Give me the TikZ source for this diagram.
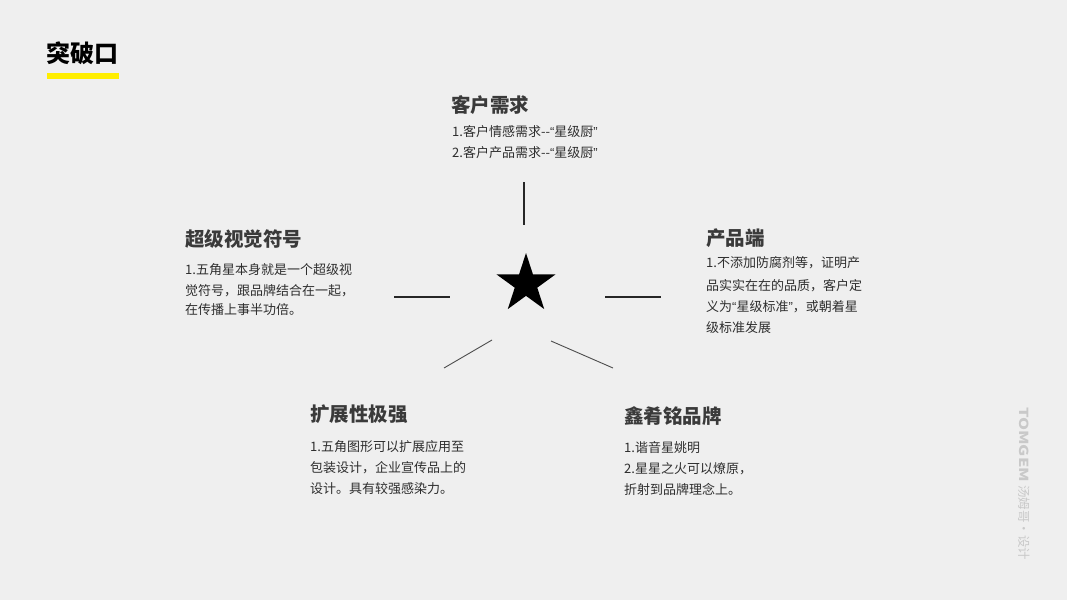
\documentclass[tikz,border=0pt]{standalone}
\usepackage{fontspec}
\setmainfont{Noto Sans CJK SC}
\newfontfamily\latinq{Liberation Sans}
\newcommand{\myLq}{{\latinq “}}
\newcommand{\myRq}{{\latinq ”}}
\usetikzlibrary{shapes.geometric}
\definecolor{bgc}{HTML}{EFEFEF}
\definecolor{headc}{HTML}{3A3A3A}
\definecolor{bodyc}{HTML}{2E2E2E}
\definecolor{markc}{HTML}{C9C9C9}
\definecolor{barc}{HTML}{FFEE00}
\tikzset{
  head/.style={anchor=west, inner sep=0pt, text=headc, font=\fontsize{19.5}{22}\selectfont\bfseries},
  body/.style={anchor=west, inner sep=0pt, text=bodyc, font=\fontsize{13}{15}\selectfont},
  thick line/.style={line width=1.6pt, draw=black!85},
  thin line/.style={line width=0.9pt, draw=black!70},
}
\begin{document}
\begin{tikzpicture}[x=1pt,y=-1pt]
\fill[bgc] (0,0) rectangle (1067,600);
\useasboundingbox (0,0) rectangle (1067,600);
% title
\node[anchor=west, inner sep=0pt, font=\fontsize{24}{28}\selectfont\bfseries] (title) at (46,53) {突破口};
\fill[barc] (47,73) rectangle (119,79);
% star
\node[star, star points=5, star point ratio=2.618, fill=black, minimum size=62pt, inner sep=0pt] (star) at (526,284) {};
% connector lines
\coordinate (t1) at (524,182); \coordinate (t2) at (524,225);
\coordinate (l1) at (394,297); \coordinate (l2) at (450,297);
\coordinate (r1) at (605,297); \coordinate (r2) at (661,297);
\coordinate (a1) at (492,340); \coordinate (a2) at (444,368);
\coordinate (b1) at (551,341); \coordinate (b2) at (613,368);
\draw[thick line] (t1) -- (t2);
\draw[thick line] (l1) -- (l2);
\draw[thick line] (r1) -- (r2);
\draw[thin line] (a1) -- (a2);
\draw[thin line] (b1) -- (b2);
% top block
\node[head] (h1) at (451,105) {客户需求};
\node[body] (h1a) at (452,131.5) {1.客户情感需求-{}-\myLq 星级厨\myRq};
\node[body] (h1b) at (452,153) {2.客户产品需求-{}-\myLq 星级厨\myRq};
% left block
\node[head] (h2) at (185,239) {超级视觉符号};
\node[body] (h2a) at (185,270) {1.五角星本身就是一个超级视};
\node[body] (h2b) at (185,290.5) {觉符号，跟品牌结合在一起，};
\node[body] (h2c) at (185,310) {在传播上事半功倍。};
% right block
\node[head] (h3) at (706,238) {产品端};
\node[body] (h3a) at (706,262.5) {1.不添加防腐剂等，证明产};
\node[body] (h3b) at (706,285.5) {品实实在在的品质，客户定};
\node[body] (h3c) at (706,307) {义为\myLq 星级标准\myRq，或朝着星};
\node[body] (h3d) at (706,328) {级标准发展};
% lower left block
\node[head] (h4) at (310,414) {扩展性极强};
\node[body] (h4a) at (310,446.5) {1.五角图形可以扩展应用至};
\node[body] (h4b) at (310,467.5) {包装设计，企业宣传品上的};
\node[body] (h4c) at (310,488.5) {设计。具有较强感染力。};
% lower right block
\node[head] (h5) at (624,416) {鑫肴铭品牌};
\node[body] (h5a) at (624,447.5) {1.谐音星姚明};
\node[body] (h5b) at (624,469) {2.星星之火可以燎原，};
\node[body] (h5c) at (624,489.5) {折射到品牌理念上。};
% watermark
\node[anchor=west, inner sep=0pt, rotate=-90, text=markc, font=\fontsize{12.5}{14}\selectfont] (mark) at (1024,407) {\scalebox{1.33}[1]{\textbf{TOMGEM}}\hspace{3pt}汤姆哥·设计};
\end{tikzpicture}
\end{document}
